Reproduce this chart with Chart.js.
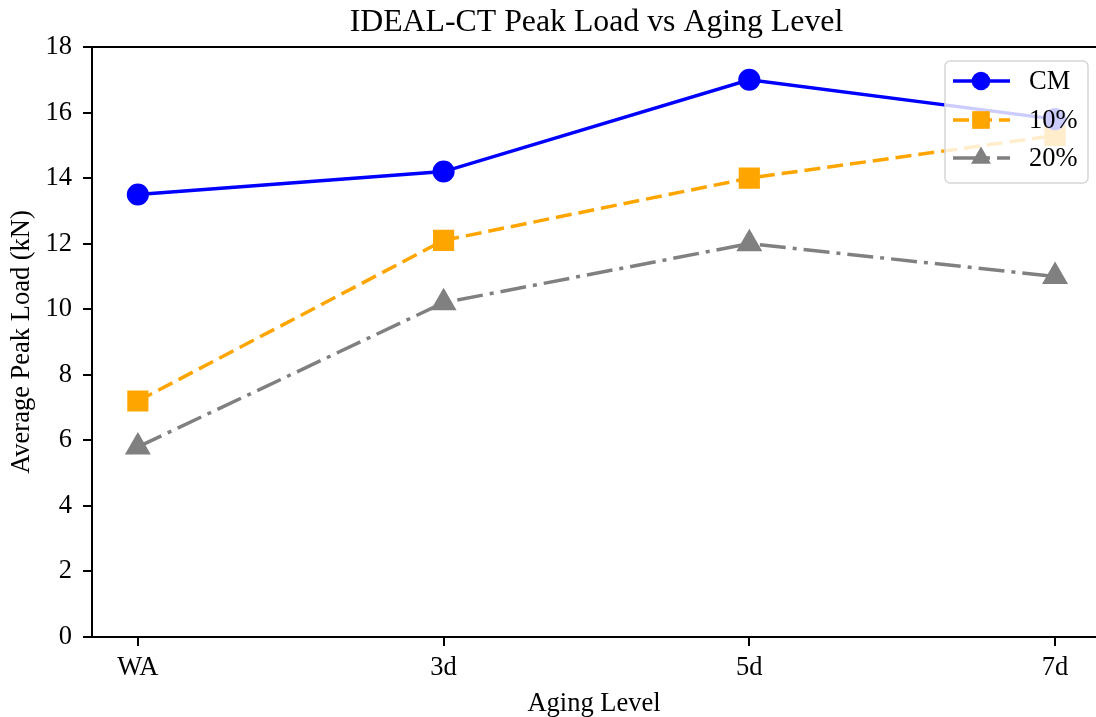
<!DOCTYPE html>
<html>
<head>
<meta charset="utf-8">
<script src="https://cdn.jsdelivr.net/npm/chart.js@4.4.1/dist/chart.umd.min.js"></script>
<style>
	body { margin: 0; background: #fff; overflow: hidden; }
	canvas { display: block; }
</style>
</head>
<body>
<canvas id="peak_load" width="1096" height="717"></canvas>
<script>

const agingLevels = ['WA', '3d', '5d', '7d'];
const cmLoad = [13.5, 14.2, 17.0, 15.8];
const pct10Load = [7.2, 12.1, 14.0, 15.3];
const pct20Load = [5.8, 10.2, 12.0, 11.0];
const seriesNames = ['CM', '10%', '20%'];
const chartTitle = 'IDEAL-CT Peak Load vs Aging Level';
const yMin = 0;
const yMax = 18;
const yStep = 2;

const SERIF = "'Liberation Serif', 'Times New Roman', serif";
const LABEL_SIZE = 26.5;

function toPoints(values) {
	return values.map((v, i) => ({ x: i, y: v }));
}

function markerPath(ctx, style, x, y, r) {
	ctx.beginPath();
	if (style === 'circle') {
		ctx.arc(x, y, r, 0, Math.PI * 2);
	} else if (style === 'rect') {
		const s = Math.SQRT1_2 * r;
		ctx.rect(x - s, y - s, 2 * s, 2 * s);
	} else if (style === 'triangle') {
		let rad = 0;
		ctx.moveTo(x + Math.sin(rad) * r, y - Math.cos(rad) * r);
		rad += 2 * Math.PI / 3;
		ctx.lineTo(x + Math.sin(rad) * r, y - Math.cos(rad) * r);
		rad += 2 * Math.PI / 3;
		ctx.lineTo(x + Math.sin(rad) * r, y - Math.cos(rad) * r);
		ctx.closePath();
	}
}

// top spine + title centred over the full axes box (which runs past the canvas edge)
const axesFrame = {
	id: 'axesFrame',
	afterDraw(chart) {
		const { ctx, chartArea } = chart;
		const xs = chart.scales.x;
		const axRight = xs.getPixelForValue(3.15);
		ctx.save();
		ctx.strokeStyle = '#000';
		ctx.lineWidth = 2;
		ctx.beginPath();
		ctx.moveTo(chartArea.left - 1, chartArea.top);
		ctx.lineTo(chartArea.right, chartArea.top);
		ctx.stroke();

		ctx.fillStyle = '#000';
		ctx.font = '31.8px ' + SERIF;
		ctx.textAlign = 'center';
		ctx.textBaseline = 'middle';
		ctx.fillText(chartTitle, (chartArea.left + axRight) / 2, 23);
		ctx.restore();
	}
};

// legend inside the plot, upper right, semi transparent like matplotlib
const innerLegend = {
	id: 'innerLegend',
	afterDatasetsDraw(chart) {
		const ctx = chart.ctx;
		const bx = 945, by = 61, bw = 143, bh = 122, br = 5;
		ctx.save();
		ctx.beginPath();
		ctx.roundRect(bx, by, bw, bh, br);
		ctx.fillStyle = 'rgba(255,255,255,0.8)';
		ctx.fill();
		ctx.strokeStyle = '#d6d6d6';
		ctx.lineWidth = 1.5;
		ctx.stroke();

		const rows = [81, 120, 158];
		chart.data.datasets.forEach((ds, i) => {
			const y = rows[i];
			ctx.setLineDash(ds.borderDash || []);
			ctx.strokeStyle = ds.borderColor;
			ctx.lineWidth = ds.borderWidth;
			ctx.beginPath();
			ctx.moveTo(953, y);
			ctx.lineTo(1010, y);
			ctx.stroke();
			ctx.setLineDash([]);
			markerPath(ctx, ds.pointStyle, 981, y, ds.pointRadius);
			ctx.fillStyle = ds.pointBackgroundColor;
			ctx.fill();

			ctx.fillStyle = '#000';
			ctx.font = LABEL_SIZE + 'px ' + SERIF;
			ctx.textBaseline = 'middle';
			ctx.textAlign = 'left';
			ctx.fillText(ds.label, 1029, y + 1);
		});
		ctx.restore();
	}
};

const ctx = document.getElementById('peak_load').getContext('2d');

const myChart = new Chart(ctx, {
	type: 'line',
	data: {
		datasets: [{
			label: seriesNames[0],
			data: toPoints(cmLoad),
			borderColor: '#0000ff',
			pointBackgroundColor: '#0000ff',
			borderWidth: 3.5,
			pointStyle: 'circle',
			pointRadius: 9.3
		}, {
			label: seriesNames[1],
			data: toPoints(pct10Load),
			borderColor: '#ffa500',
			pointBackgroundColor: '#ffa500',
			borderWidth: 3.5,
			borderDash: [16, 7],
			pointStyle: 'rect',
			pointRadius: 12.5
		}, {
			label: seriesNames[2],
			data: toPoints(pct20Load),
			borderColor: '#808080',
			pointBackgroundColor: '#808080',
			borderWidth: 3.5,
			borderDash: [26, 7, 4, 7],
			pointStyle: 'triangle',
			pointRadius: 11.5
		}]
	},
	options: {
		responsive: false,
		animation: false,
		layout: {
			autoPadding: false,
			padding: { left: 0, right: 0, top: 47, bottom: 0 }
		},
		elements: {
			line: { tension: 0 },
			point: { borderWidth: 0, hoverRadius: 0 }
		},
		plugins: {
			legend: { display: false },
			tooltip: { enabled: false },
			title: { display: false }
		},
		scales: {
			x: {
				type: 'linear',
				min: -0.15,
				max: 3.134,
				afterBuildTicks: (scale) => {
					scale.ticks = agingLevels.map((_, i) => ({ value: i }));
				},
				afterFit: (scale) => {
					scale.height = 80;
					scale.paddingLeft = 0;
					scale.paddingRight = 0;
				},
				ticks: {
					color: '#000',
					font: { family: SERIF, size: LABEL_SIZE },
					padding: 6,
					maxRotation: 0,
					autoSkip: false,
					callback: (v) => agingLevels[v]
				},
				grid: {
					drawOnChartArea: false,
					color: '#000',
					lineWidth: 2,
					tickLength: 9
				},
				border: { display: true, color: '#000', width: 2 },
				title: {
					display: true,
					text: 'Aging Level',
					color: '#000',
					font: { family: SERIF, size: LABEL_SIZE, lineHeight: 1 },
					padding: { top: 0, bottom: 0 }
				}
			},
			y: {
				min: yMin,
				max: yMax,
				afterFit: (scale) => {
					scale.width = 92;
					scale.paddingTop = 0;
					scale.paddingBottom = 0;
				},
				ticks: {
					stepSize: yStep,
					color: '#000',
					font: { family: SERIF, size: LABEL_SIZE },
					padding: 11
				},
				grid: {
					drawOnChartArea: false,
					color: '#000',
					lineWidth: 2,
					tickLength: 9
				},
				border: { display: true, color: '#000', width: 2 },
				title: {
					display: true,
					text: 'Average Peak Load (kN)',
					color: '#000',
					font: { family: SERIF, size: LABEL_SIZE },
					padding: { top: 6, bottom: 0 }
				}
			}
		}
	},
	plugins: [axesFrame, innerLegend]
});
</script>
</body>
</html>
